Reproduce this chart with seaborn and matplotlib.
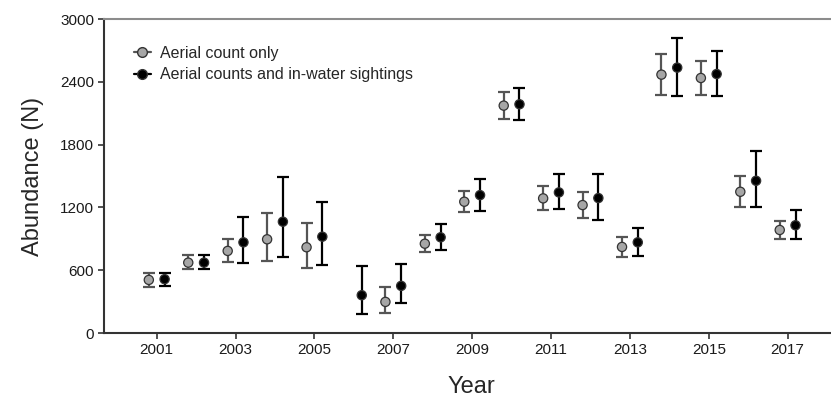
import matplotlib
matplotlib.use("Agg")
import matplotlib.pyplot as plt
from matplotlib.lines import Line2D
import numpy as np
import pandas as pd
import seaborn as sns

# Valores (estimativas)
anos = [2001, 2002, 2003, 2004, 2005, 2006, 2007, 2008, 2009,
        2010, 2011, 2012, 2013, 2014, 2015, 2016, 2017]

# Contagem aérea apenas (2006 sem valor)
aereo_media = [508, 673, 785, 896, 820, np.nan, 298, 854, 1255,
               2173, 1287, 1223, 823, 2469, 2437, 1350, 985]
aereo_inf = [444, 610, 677, 692, 622, np.nan, 190, 775, 1153,
             2043, 1175, 1096, 727, 2275, 2275, 1201, 899]
aereo_sup = [572, 744, 896, 1150, 1054, np.nan, 438, 937, 1357,
             2307, 1404, 1347, 921, 2663, 2599, 1502, 1071]

# Contagem aérea + avistamentos na água
total_media = [515, 673, 867, 1064, 921, 362, 451, 915, 1318,
               2186, 1344, 1290, 867, 2536, 2475, 1455, 1030]
total_inf = [451, 610, 667, 730, 654, 184, 292, 794, 1169,
             2040, 1182, 1083, 740, 2265, 2262, 1201, 896]
total_sup = [578, 744, 1112, 1493, 1252, 642, 661, 1045, 1471,
             2339, 1519, 1522, 1004, 2815, 2698, 1738, 1176]

rotulos = ['Aerial count only', 'Aerial counts and in-water sightings']

sns.set_style('white')
plt.rcParams['font.family'] = ['Liberation Sans', 'DejaVu Sans']

dados = pd.concat([
    pd.DataFrame({'ano': anos, 'media': aereo_media, 'inf': aereo_inf,
                  'sup': aereo_sup, 'grupo': rotulos[0]}),
    pd.DataFrame({'ano': anos, 'media': total_media, 'inf': total_inf,
                  'sup': total_sup, 'grupo': rotulos[1]}),
], ignore_index=True)

deslocamento = {rotulos[0]: -0.2, rotulos[1]: 0.2}
dados['x'] = dados['ano'] + dados['grupo'].map(deslocamento)

cores_linha = {rotulos[0]: '#555555', rotulos[1]: '#000000'}
cores_ponto = {rotulos[0]: '#a6a6a6', rotulos[1]: '#000000'}

fig, ax = plt.subplots(figsize=(8.31, 3.97), dpi=100)
fig.subplots_adjust(left=0.125, right=1.0, top=0.952, bottom=0.161)

for grupo in rotulos:
    d = dados[dados['grupo'] == grupo].dropna()
    ax.errorbar(d['x'], d['media'],
                yerr=[d['media'] - d['inf'], d['sup'] - d['media']],
                fmt='none', ecolor=cores_linha[grupo], elinewidth=1.6,
                capsize=4, capthick=1.6, zorder=2)

sns.scatterplot(data=dados.dropna(), x='x', y='media', hue='grupo',
                palette=cores_ponto, edgecolor='#333333', linewidth=0.9,
                s=44, legend=False, zorder=3, ax=ax)

ax.set_xlim(1999.66, 2018.1)
ax.set_ylim(0, 3000)
ax.set_xticks(anos[::2])
ax.set_yticks(range(0, 3001, 600))
ax.tick_params(axis='both', direction='out', length=4, width=1.2,
               color='#333333', labelcolor='#1a1a1a', labelsize=11, pad=3,
               bottom=True, left=True)

for lado in ['left', 'bottom']:
    ax.spines[lado].set_color('#333333')
    ax.spines[lado].set_linewidth(1.5)
ax.spines['top'].set_color('#8c8c8c')
ax.spines['top'].set_linewidth(1.5)
ax.spines['right'].set_visible(False)

ax.set_xlabel('Year', fontsize=17)
ax.set_ylabel('Abundance (N)', fontsize=17)
ax.xaxis.set_label_coords(0.506, -0.137)
ax.yaxis.set_label_coords(-0.082, 0.5)

alcas = [Line2D([0], [0], color=cores_linha[g], marker='o', markersize=7,
                markerfacecolor=cores_ponto[g], markeredgecolor='#333333',
                linewidth=1.6) for g in rotulos]
ax.legend(alcas, rotulos, loc='upper left', frameon=False, fontsize=11.5,
          handlelength=1.1, handletextpad=0.55, labelspacing=0.4,
          borderpad=0, borderaxespad=0, bbox_to_anchor=(0.041, 0.915))

plt.savefig('out.png', dpi=100)
